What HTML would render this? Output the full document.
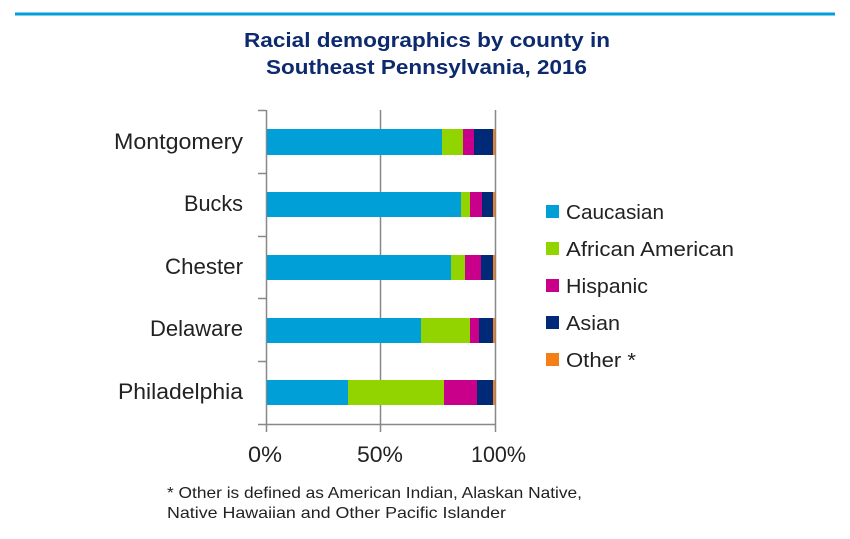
<!DOCTYPE html>
<html><head><style>
body{margin:0;width:850px;height:534px;background:#fff;font-family:"Liberation Sans",sans-serif;overflow:hidden}
</style></head><body>
<svg width="850" height="534" xmlns="http://www.w3.org/2000/svg" font-family="Liberation Sans, sans-serif">
<rect x="15" y="12.5" width="820" height="3" fill="#009fd8"/>
<g fill="#0d2a6e" font-weight="bold" font-size="20" lengthAdjust="spacingAndGlyphs">
<text x="244" y="47" textLength="366" lengthAdjust="spacingAndGlyphs">Racial demographics by county in</text>
<text x="266" y="74" textLength="321" lengthAdjust="spacingAndGlyphs">Southeast Pennsylvania, 2016</text>
</g>
<g stroke="#888" stroke-width="1.5" fill="none">
<line x1="380.5" y1="110" x2="380.5" y2="432"/>
<line x1="495.5" y1="110" x2="495.5" y2="432"/>
<line x1="266.5" y1="110" x2="266.5" y2="432"/>
<line x1="258" y1="110.5" x2="266" y2="110.5"/>
<line x1="258" y1="173.5" x2="266" y2="173.5"/>
<line x1="258" y1="236.5" x2="266" y2="236.5"/>
<line x1="258" y1="298.5" x2="266" y2="298.5"/>
<line x1="258" y1="361.5" x2="266" y2="361.5"/>
<line x1="258" y1="424.5" x2="496" y2="424.5"/>
</g>
<g>
<rect x="267" y="129" width="175" height="26" fill="#009fd8"/><rect x="442" y="129" width="21" height="26" fill="#92d400"/><rect x="463" y="129" width="11" height="26" fill="#c8008a"/><rect x="474" y="129" width="19" height="26" fill="#002a78"/><rect x="493" y="129" width="2" height="26" fill="#f57f17"/>
<rect x="267" y="192" width="194" height="25" fill="#009fd8"/><rect x="461" y="192" width="9" height="25" fill="#92d400"/><rect x="470" y="192" width="12" height="25" fill="#c8008a"/><rect x="482" y="192" width="11" height="25" fill="#002a78"/><rect x="493" y="192" width="2" height="25" fill="#f57f17"/>
<rect x="267" y="255" width="184" height="25" fill="#009fd8"/><rect x="451" y="255" width="14" height="25" fill="#92d400"/><rect x="465" y="255" width="16" height="25" fill="#c8008a"/><rect x="481" y="255" width="12" height="25" fill="#002a78"/><rect x="493" y="255" width="2" height="25" fill="#f57f17"/>
<rect x="267" y="318" width="154" height="25" fill="#009fd8"/><rect x="421" y="318" width="49" height="25" fill="#92d400"/><rect x="470" y="318" width="9" height="25" fill="#c8008a"/><rect x="479" y="318" width="14" height="25" fill="#002a78"/><rect x="493" y="318" width="2" height="25" fill="#f57f17"/>
<rect x="267" y="380" width="81" height="25" fill="#009fd8"/><rect x="348" y="380" width="96" height="25" fill="#92d400"/><rect x="444" y="380" width="33" height="25" fill="#c8008a"/><rect x="477" y="380" width="16" height="25" fill="#002a78"/><rect x="493" y="380" width="2" height="25" fill="#f57f17"/>
</g>
<g fill="#222" font-size="22">
<text x="114" y="149" textLength="129" lengthAdjust="spacingAndGlyphs">Montgomery</text>
<text x="184" y="211" textLength="59" lengthAdjust="spacingAndGlyphs">Bucks</text>
<text x="165" y="274" textLength="78" lengthAdjust="spacingAndGlyphs">Chester</text>
<text x="150" y="336" textLength="93" lengthAdjust="spacingAndGlyphs">Delaware</text>
<text x="118" y="399" textLength="125" lengthAdjust="spacingAndGlyphs">Philadelphia</text>
</g>
<g fill="#222" font-size="22">
<text x="248" y="462" textLength="34" lengthAdjust="spacingAndGlyphs">0%</text>
<text x="357" y="462" textLength="46" lengthAdjust="spacingAndGlyphs">50%</text>
<text x="471" y="462" textLength="55" lengthAdjust="spacingAndGlyphs">100%</text>
</g>
<g font-size="20" fill="#222">
<rect x="546" y="205" width="13" height="13" fill="#009fd8"/><text x="566" y="219" textLength="98" lengthAdjust="spacingAndGlyphs">Caucasian</text>
<rect x="546" y="242" width="13" height="13" fill="#92d400"/><text x="566" y="256" textLength="168" lengthAdjust="spacingAndGlyphs">African American</text>
<rect x="546" y="279" width="13" height="13" fill="#c8008a"/><text x="566" y="293" textLength="82" lengthAdjust="spacingAndGlyphs">Hispanic</text>
<rect x="546" y="316" width="13" height="13" fill="#002a78"/><text x="566" y="330" textLength="54" lengthAdjust="spacingAndGlyphs">Asian</text>
<rect x="546" y="353" width="13" height="13" fill="#f57f17"/><text x="566" y="367" textLength="70" lengthAdjust="spacingAndGlyphs">Other *</text>
</g>
<g font-size="16" fill="#222">
<text x="167" y="498" textLength="415" lengthAdjust="spacingAndGlyphs">* Other is defined as American Indian, Alaskan Native,</text>
<text x="167" y="518" textLength="339" lengthAdjust="spacingAndGlyphs">Native Hawaiian and Other Pacific Islander</text>
</g>
</svg>
</body></html>
